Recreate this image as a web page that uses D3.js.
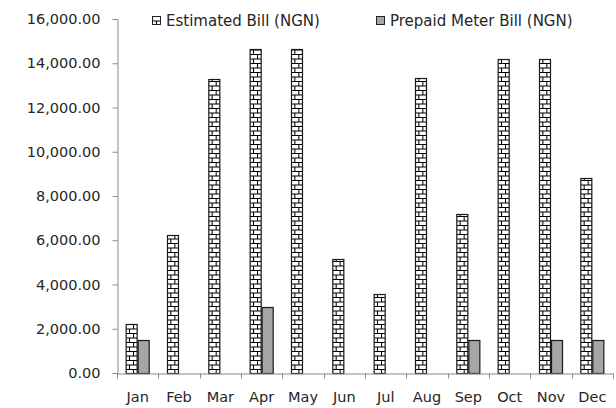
<!DOCTYPE html>
<html>
<head>
<meta charset="utf-8">
<script src="https://cdn.jsdelivr.net/npm/d3@7"></script>
<style>
  body { margin: 0; background: #fff; }
  text { font-family: "DejaVu Sans", Verdana, sans-serif; }
</style>
</head>
<body>
<div id="chart"></div>
<script>
// data
const months = ["Jan", "Feb", "Mar", "Apr", "May", "Jun", "Jul", "Aug", "Sep", "Oct", "Nov", "Dec"];
const seriesNames = ["Estimated Bill (NGN)", "Prepaid Meter Bill (NGN)"];
const estimated = [2200, 6250, 13300, 14650, 14650, 5150, 3550, 13350, 7200, 14200, 14200, 8800];
const prepaid = [1500, 0, 0, 3000, 0, 0, 0, 0, 1500, 0, 1500, 1500];
const yTicks = [0, 2000, 4000, 6000, 8000, 10000, 12000, 14000, 16000];

const width = 616, height = 408;
const margin = {top: 19, right: 3, bottom: 35, left: 117};

const svg = d3.select("#chart").append("svg")
  .attr("width", width)
  .attr("height", height);

// brick pattern for the estimated series
const defs = svg.append("defs");
const pat = defs.append("pattern")
  .attr("id", "brick")
  .attr("patternUnits", "userSpaceOnUse")
  .attr("width", 8).attr("height", 9);
pat.append("rect").attr("width", 8).attr("height", 9).attr("fill", "#fff");
pat.append("path")
  .attr("d", "M0,0.5H8 M0,5H8 M0.5,0V4.5 M4.5,4.5V9")
  .attr("stroke", "#000").attr("stroke-width", 1.1).attr("fill", "none");

const x = d3.scaleBand()
  .domain(months)
  .range([margin.left, width - margin.right]);

const xSub = d3.scaleBand()
  .domain(seriesNames)
  .range([0, x.bandwidth()])
  .paddingOuter(0.72);

const y = d3.scaleLinear()
  .domain([0, 16000])
  .range([height - margin.bottom, margin.top]);

const fills = ["url(#brick)", "#a6a6a6"];

const rows = months.map((m, i) => ({month: m, values: [estimated[i], prepaid[i]]}));

// bars
const groups = svg.append("g").selectAll("g")
  .data(rows)
  .join("g")
  .attr("transform", d => `translate(${x(d.month)},0)`);

groups.selectAll("rect")
  .data(d => d.values.map((v, k) => ({name: seriesNames[k], value: v, k: k})).filter(d => d.value > 0))
  .join("rect")
  .attr("x", d => xSub(d.name) + 0.5)
  .attr("y", d => Math.round(y(d.value)) + 0.5)
  .attr("width", xSub.bandwidth() - 1)
  .attr("height", d => Math.round(y(0)) - Math.round(y(d.value)))
  .attr("fill", d => fills[d.k])
  .attr("stroke", "#1a1a1a")
  .attr("stroke-width", 1.2);

// axes
const yAxis = d3.axisLeft(y)
  .tickValues(yTicks)
  .tickSize(5)
  .tickPadding(12)
  .tickFormat(d3.format(",.2f"));

const gy = svg.append("g")
  .attr("transform", `translate(${margin.left + 0.5},0)`)
  .call(yAxis);

const xAxis = d3.axisBottom(x)
  .tickSize(0)
  .tickPadding(18);

const gx = svg.append("g")
  .attr("transform", `translate(0,${Math.round(y(0)) + 0.5})`)
  .call(xAxis);

// category boundary ticks
gx.selectAll("line.sep")
  .data(months.concat(["end"]))
  .join("line")
  .attr("class", "sep")
  .attr("x1", (d, i) => Math.round(margin.left + i * x.step()) + 0.5)
  .attr("x2", (d, i) => Math.round(margin.left + i * x.step()) + 0.5)
  .attr("y1", 0).attr("y2", 5);

[gx, gy].forEach(g => {
  g.selectAll("path.domain, line").attr("stroke", "#898989");
  g.selectAll("text")
    .attr("fill", "#262626")
    .style("font-size", "14.5px");
});

// legend
const legend = svg.append("g");
const legendX = [152, 376];
seriesNames.forEach((name, k) => {
  const item = legend.append("g").attr("transform", `translate(${legendX[k]},16)`);
  item.append("rect")
    .attr("x", 0.5).attr("y", 0.5)
    .attr("width", 8).attr("height", 8)
    .attr("fill", fills[k])
    .attr("stroke", "#222");
  item.append("text")
    .attr("x", 14).attr("y", 9.5)
    .attr("fill", "#262626")
    .style("font-size", "15px")
    .text(name);
});
</script>
</body>
</html>
